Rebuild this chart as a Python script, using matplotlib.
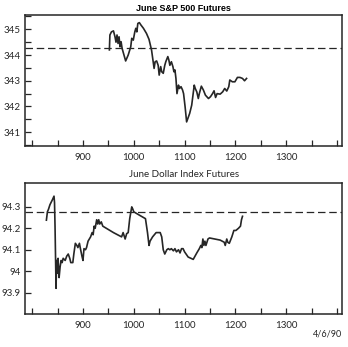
import matplotlib
matplotlib.use("Agg")
import matplotlib.pyplot as plt
from matplotlib.ticker import MultipleLocator

# June S&P 500 futures (time as HHMM, price)
sp_time = [952, 953, 956, 960, 963, 965, 967, 969, 971, 973, 975, 977, 984, 989,
           994, 996, 999, 1002, 1004, 1006, 1008, 1011, 1014, 1019, 1025, 1030,
           1035, 1040, 1042, 1045, 1048, 1050, 1053, 1055, 1058, 1061, 1063, 1067,
           1069, 1071, 1074, 1077, 1079, 1081, 1083, 1085, 1088, 1090, 1093, 1096,
           1098, 1101, 1104, 1110, 1114, 1119, 1121, 1124, 1127, 1129, 1133, 1137,
           1141, 1147, 1151, 1155, 1158, 1161, 1164, 1170, 1175, 1179, 1183, 1187,
           1189, 1194, 1199, 1204, 1209, 1214, 1218, 1222]
sp_price = [344.2, 344.78, 344.9, 344.94, 344.71, 344.5, 344.78, 344.45, 344.71,
            344.32, 344.52, 344.26, 343.77, 344.0, 344.32, 344.65, 344.58, 344.9,
            345.04, 344.9, 345.23, 345.26, 345.17, 345.04, 344.84, 344.61, 344.19,
            343.48, 343.74, 343.77, 343.6, 343.22, 343.55, 343.35, 343.29, 343.6,
            343.74, 343.94, 343.81, 343.6, 343.74, 343.55, 343.35, 343.42, 343.09,
            342.5, 342.83, 342.7, 342.77, 342.64, 342.5, 341.99, 341.4, 341.73,
            342.05, 342.83, 342.7, 342.57, 342.31, 342.5, 342.79, 342.64, 342.44,
            342.31, 342.38, 342.5, 342.61, 342.35, 342.5, 342.48, 342.57, 342.7,
            342.6, 342.77, 343.03, 342.96, 342.96, 343.13, 343.13, 343.09, 343.0,
            343.09]
sp_ref = 344.26

# June Dollar Index futures
dx_time = [828, 830, 832, 835, 840, 843, 844, 845, 847, 848, 850, 851, 853, 855,
           857, 859, 861, 865, 868, 871, 874, 876, 880, 882, 885, 888, 890, 893,
           895, 898, 900, 902, 905, 907, 910, 915, 918, 920, 922, 924, 927, 929,
           931, 933, 936, 939, 960, 976, 979, 983, 986, 989, 992, 996, 998, 1000,
           1012, 1023, 1027, 1030, 1032, 1037, 1044, 1052, 1055, 1058, 1061, 1065,
           1068, 1071, 1074, 1078, 1081, 1084, 1088, 1091, 1094, 1097, 1100, 1107,
           1117, 1124, 1129, 1132, 1134, 1136, 1138, 1140, 1142, 1146, 1149, 1170,
           1178, 1180, 1183, 1185, 1188, 1193, 1197, 1201, 1206, 1210, 1212, 1214]
dx_price = [94.238, 94.277, 94.288, 94.31, 94.334, 94.35, 94.32, 94.21, 93.92,
            94.05, 93.99, 94.06, 93.97, 94.02, 94.05, 94.04, 94.06, 94.05, 94.07,
            94.08, 94.06, 94.04, 94.04, 94.08, 94.13, 94.12, 94.11, 94.13, 94.105,
            94.07, 94.05, 94.105, 94.10, 94.11, 94.14, 94.16, 94.18, 94.17, 94.21,
            94.20, 94.24, 94.22, 94.24, 94.22, 94.23, 94.21, 94.18, 94.16, 94.18,
            94.15, 94.175, 94.18, 94.245, 94.30, 94.29, 94.277, 94.26, 94.245,
            94.18, 94.12, 94.14, 94.16, 94.18, 94.18, 94.16, 94.10, 94.08, 94.10,
            94.105, 94.10, 94.105, 94.095, 94.105, 94.09, 94.10, 94.085, 94.105,
            94.105, 94.09, 94.066, 94.055, 94.085, 94.105, 94.12, 94.11, 94.15,
            94.12, 94.14, 94.12, 94.15, 94.155, 94.145, 94.135, 94.12, 94.15,
            94.135, 94.13, 94.16, 94.19, 94.19, 94.2, 94.21, 94.24, 94.256]
dx_ref = 94.277

x_ticks = [900, 1000, 1100, 1200, 1300]

ink = "#262626"
plt.rcParams["font.family"] = ["Lato", "DejaVu Sans"]

fig = plt.figure(figsize=(3.48, 3.47), dpi=100)
fig.patch.set_facecolor("white")

ax1 = fig.add_axes([0.072, 0.579, 0.911, 0.378])
ax2 = fig.add_axes([0.072, 0.095, 0.911, 0.378])


def style(ax):
    for s in ax.spines.values():
        s.set_linewidth(1.1)
        s.set_color(ink)
    ax.set_xlim(786, 1410)
    ax.set_xticks(x_ticks)
    ax.xaxis.set_minor_locator(MultipleLocator(50))
    ax.tick_params(axis="both", which="both", direction="in", length=4,
                   width=0.9, color=ink, labelsize=7, labelcolor=ink,
                   top=False, right=False)
    ax.tick_params(axis="x", pad=5)
    ax.tick_params(axis="y", pad=3)


ax1.plot(sp_time, sp_price, color=ink, lw=1.2)
ax1.axhline(sp_ref, color=ink, lw=0.9, ls=(0, (6, 3)))
ax1.set_ylim(340.46, 345.56)
ax1.set_yticks([341, 342, 343, 344, 345])
ax1.yaxis.set_minor_locator(MultipleLocator(0.5))
style(ax1)
ax1.set_title("June S&P 500 Futures", fontsize=6.5, fontweight="bold",
              family=["Liberation Sans Narrow", "Liberation Sans", "DejaVu Sans"],
              pad=3, color="black")

ax2.plot(dx_time, dx_price, color=ink, lw=1.2)
ax2.axhline(dx_ref, color=ink, lw=0.9, ls=(0, (6, 3)))
ax2.set_ylim(93.80, 94.412)
ax2.set_yticks([93.9, 94.0, 94.1, 94.2, 94.3])
ax2.set_yticklabels(["93.9", "94", "94.1", "94.2", "94.3"])
style(ax2)
ax2.set_title("June Dollar Index Futures", fontsize=7, pad=4, color=ink)

fig.text(0.983, 0.025, "4/6/90", ha="right", va="bottom", fontsize=6.5,
         color=ink)

fig.savefig("out.png", dpi=100, facecolor="white")
